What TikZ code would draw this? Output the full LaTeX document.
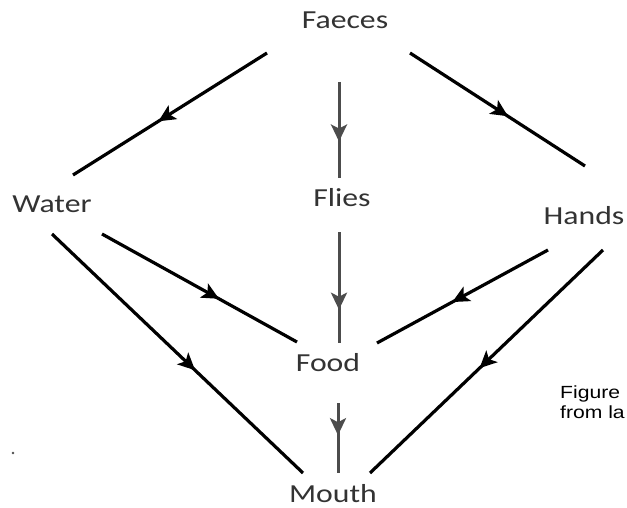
\documentclass[tikz,border=0pt]{standalone}
\usepackage{fontspec}
\newfontfamily\labelfont[FakeStretch=1.22]{Carlito}
\newfontfamily\capfont[FakeStretch=1.2]{Liberation Sans}
\usetikzlibrary{arrows.meta,decorations.markings}

\begin{document}
\begin{tikzpicture}[x=1pt,y=-1pt,
  lbl/.style={anchor=base,text=black!80,font=\labelfont\fontsize{26}{30}\selectfont},
  route/.style={line width=3.2pt,black},
  stem/.style={line width=3pt,black!70},
  midarrow/.style={postaction={decorate,decoration={markings,
    mark=at position #1 with {\arrow{Stealth[length=17pt,width=16pt,inset=4pt]}}}}}]
\useasboundingbox (0,0) rectangle (627,508);

% labels
\node[lbl] (faeces) at (345,29) {Faeces};
\node[lbl] (water) at (52,213) {Water};
\node[lbl] (flies) at (342,207) {Flies};
\node[lbl] (hands) at (584,225) {Hands};
\node[lbl] (food) at (328,371) {Food};
\node[lbl] (mouth) at (333,502) {Mouth};

% line ends
\coordinate (fw) at (267,53);
\coordinate (fh) at (410,53);
\coordinate (ff) at (339,82);
\coordinate (wf) at (73,175);
\coordinate (hf) at (585,166);
\coordinate (lt) at (339,178);
\coordinate (lb) at (339,232);
\coordinate (wa) at (102,234);
\coordinate (wb) at (52,234);
\coordinate (ha) at (548,250);
\coordinate (hb) at (603,250);
\coordinate (fl) at (297,342);
\coordinate (fr) at (377,343);
\coordinate (fm) at (339,343);
\coordinate (mt) at (338,403);
\coordinate (mb) at (338,473);
\coordinate (ml) at (303,473);
\coordinate (mr) at (370,473);

% top part
\draw[route,midarrow=0.56] (fw) -- (wf);
\draw[route,midarrow=0.56] (fh) -- (hf);
\draw[stem,midarrow=0.62] (ff) -- (lt);

% middle part
\draw[stem,midarrow=0.70] (lb) -- (fm);
\draw[route,midarrow=0.6] (wa) -- (fl);
\draw[route,midarrow=0.57] (wb) -- (ml);
\draw[route,midarrow=0.56] (ha) -- (fr);
\draw[route,midarrow=0.53] (hb) -- (mr);

% bottom part
\draw[stem,midarrow=0.46] (mt) -- (mb);

% caption
\node[anchor=base west,inner sep=0pt,align=left,
  font=\capfont\fontsize{17.6}{20}\selectfont] (cap) at (560,418)
  {Figure\\from la};
\fill[black!70] (13,453) circle (1.3);
\end{tikzpicture}
\end{document}
